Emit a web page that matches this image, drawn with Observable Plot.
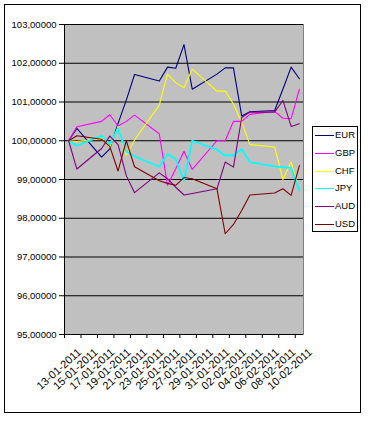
<!DOCTYPE html>
<html><head><meta charset="utf-8">
<script src="https://cdn.jsdelivr.net/npm/d3@7"></script>
<script src="https://cdn.jsdelivr.net/npm/@observablehq/plot@0.6"></script>
<style>
body{margin:0;background:#fff;}
#wrap{position:relative;width:369px;height:424px;font-family:Arial,"Liberation Sans",sans-serif;overflow:hidden;}
#border{position:absolute;left:4px;top:4px;width:357px;height:409px;border:1px solid #000;box-sizing:border-box;pointer-events:none;}
#chart{position:absolute;left:0;top:0;}
#legend{position:absolute;left:312px;top:126px;width:46px;height:106px;border:1px solid #000;background:#fff;box-sizing:border-box;}
.item{position:absolute;left:0;width:44px;height:12px;font-size:9.5px;line-height:12px;color:#000;}
.sw{display:block;position:absolute;left:2px;top:6px;width:19px;height:0;border-top:1px solid;}
.lb{display:block;position:absolute;left:22px;top:0;white-space:nowrap;}
</style></head>
<body>
<div id="wrap"><div id="chart"></div><div id="legend"></div><div id="border"></div></div>
<script>
const dates = ["2011-01-13","2011-01-14","2011-01-17","2011-01-18","2011-01-19","2011-01-20","2011-01-21","2011-01-24","2011-01-25","2011-01-26","2011-01-27","2011-01-28","2011-01-31","2011-02-01","2011-02-02","2011-02-03","2011-02-04","2011-02-07","2011-02-08","2011-02-09","2011-02-10"];
const seriesNames = ["EUR","GBP","CHF","JPY","AUD","USD"];
const seriesColors = ["#000080","#ff00ff","#ffff00","#00ffff","#800080","#800000"];
const EUR = [100, 100.32, 99.58, 99.79, 100.45, 101.05, 101.71, 101.54, 101.9, 101.87, 102.48, 101.33, 101.72, 101.88, 101.88, 100.64, 100.75, 100.78, 101.33, 101.9, 101.6];
const GBP = [100, 100.36, 100.5, 100.67, 100.38, 100.5, 100.66, 100.18, 98.85, 99.28, 99.73, 99.26, 100.0, 100.0, 100.5, 100.5, 100.68, 100.76, 100.58, 100.57, 101.33];
const CHF = [100, 99.98, 100.06, 99.83, 100.37, 99.62, 100.02, 100.92, 101.72, 101.5, 101.37, 101.85, 101.28, 101.28, 100.95, 100.48, 99.9, 99.84, 99.0, 99.45, 98.72];
const JPY = [100, 99.87, 100.13, 99.91, 100.32, 99.72, 99.6, 99.33, 99.66, 99.53, 98.97, 100.0, 99.77, 99.62, 99.62, 99.78, 99.45, 99.34, 99.32, 99.3, 98.72];
const AUD = [100, 99.27, 99.8, 100.12, 99.9, 99.1, 98.66, 99.17, 99.02, 98.8, 98.6, 98.64, 98.76, 99.45, 99.32, 100.6, 100.74, 100.74, 101.04, 100.37, 100.44];
const USD = [100, 100.13, 100.04, 99.85, 99.22, 100.0, 99.33, 98.97, 98.9, 98.85, 99.05, 99.02, 98.76, 97.6, 97.84, 98.2, 98.6, 98.65, 98.76, 98.59, 99.36];
const yTicks = [95, 96, 97, 98, 99, 100, 101, 102, 103];
const xTickLabels = ["13-01-2011","15-01-2011","17-01-2011","19-01-2011","21-01-2011","23-01-2011","25-01-2011","27-01-2011","29-01-2011","31-01-2011","02-02-2011","04-02-2011","06-02-2011","08-02-2011","10-02-2011"];

const values = {EUR, GBP, CHF, JPY, AUD, USD};
const parse = d3.utcParse("%Y-%m-%d");
const parseLbl = d3.utcParse("%d-%m-%Y");
const fmtLbl = d3.utcFormat("%d-%m-%Y");
const rows = [];
for (const s of seriesNames) values[s].forEach((v, i) => rows.push({series: s, date: parse(dates[i]), value: v}));
const labelDates = xTickLabels.map(parseLbl);
const half = 12 * 3600 * 1000;
const start = new Date(labelDates[0].getTime() - half);
const end = new Date(labelDates[labelDates.length - 1].getTime() + half);
const boundaries = labelDates.map(d => new Date(d.getTime() - half));
const yFmt = v => v.toFixed(5).replace(".", ",");

const lines = seriesNames.map((s, k) => Plot.line(rows.filter(r => r.series === s), {
  x: "date", y: "value", stroke: seriesColors[k], strokeWidth: s === "JPY" ? 1.8 : 1.1
}));

const chart = Plot.plot({
  width: 369, height: 424,
  marginLeft: 64, marginRight: 66, marginTop: 24, marginBottom: 90,
  style: {fontFamily: "Arial, 'Liberation Sans', sans-serif", fontSize: "9.5px", color: "#000", background: "transparent", overflow: "visible"},
  x: {type: "utc", domain: [start, end], axis: null, label: null},
  y: {domain: [95, 103], axis: null, label: null},
  marks: [
    Plot.frame({fill: "#c0c0c0", stroke: "#808080"}),
    Plot.ruleY(yTicks.slice(1), {stroke: "#000", strokeWidth: 1}),
    ...lines,
    Plot.ruleX([start], {stroke: "#000"}),
    Plot.ruleY([95], {stroke: "#000"}),
    Plot.axisY(yTicks, {tickSize: 5, tickPadding: 3, tickFormat: yFmt, stroke: "#000", fill: "#000", label: null}),
    Plot.axisX(boundaries, {tickSize: 4, tickFormat: () => "", stroke: "#000", label: null}),
    Plot.axisX(labelDates, {tickSize: 0, tickPadding: 16, tickRotate: -42, tickFormat: fmtLbl, fill: "#000", dx: 11, dy: 0, fontSize: 11, label: null})
  ]
});
document.getElementById("chart").appendChild(chart);

const legend = document.getElementById("legend");
seriesNames.forEach((s, k) => {
  const it = document.createElement("div");
  it.className = "item";
  it.style.top = (2 + k * 17.8) + "px";
  it.innerHTML = `<span class="sw" style="border-top-color:${seriesColors[k]}"></span><span class="lb">${s}</span>`;
  legend.appendChild(it);
});
</script>
</body></html>
